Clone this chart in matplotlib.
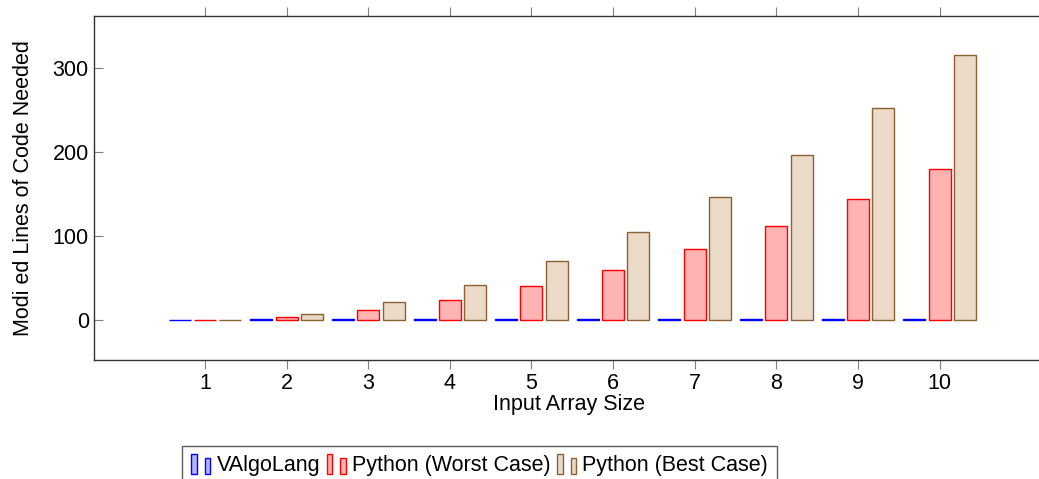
import matplotlib
matplotlib.use("Agg")
import matplotlib.pyplot as plt
import numpy as np
from matplotlib.patches import Rectangle
from matplotlib.legend_handler import HandlerBase

plt.rcParams["font.family"] = ["Liberation Sans", "DejaVu Sans"]
plt.rcParams["font.size"] = 15.5

# datos
sizes = [1, 2, 3, 4, 5, 6, 7, 8, 9, 10]
valgolang = [0, 1, 1, 1, 1, 1, 1, 1, 1, 1]
python_worst = [0, 4, 12, 24, 40, 60, 84, 112, 144, 180]
python_best = [0, 7, 21, 42, 70, 105, 147, 196, 252, 315]

series = [
    ("VAlgoLang", valgolang, "#b3b3ff", "#0000ff"),
    ("Python (Worst Case)", python_worst, "#ffb3b3", "#ff0000"),
    ("Python (Best Case)", python_best, "#ebdac7", "#8c5f35"),
]


class PairBars(HandlerBase):
    """Dos barritas pequenas como en pgfplots."""

    def create_artists(self, legend, orig, xdescent, ydescent, width, height,
                       fontsize, trans):
        fc = orig.get_facecolor()
        ec = orig.get_edgecolor()
        w = width * 0.3
        y0 = -ydescent - 0.2 * height
        r1 = Rectangle((-xdescent, y0), w, height * 1.3,
                       facecolor=fc, edgecolor=ec, lw=1.0, transform=trans)
        r2 = Rectangle((-xdescent + width * 0.7, y0), w, height * 1.05,
                       facecolor=fc, edgecolor=ec, lw=1.0, transform=trans)
        return [r1, r2]


fig = plt.figure(figsize=(10.39, 4.79), dpi=100)
ax = fig.add_axes([0.0908, 0.2478, 0.914, 0.7194])

x = np.array(sizes, dtype=float)
offsets = [-0.31, 0.0, 0.31]
handles = []
for (name, vals, fc, ec), off in zip(series, offsets):
    bars = ax.bar(x + off, vals, width=0.27, color=fc, edgecolor=ec,
                  linewidth=1.0, label=name)
    handles.append(bars.patches[0])

ax.set_xlim(-0.356, 11.28)
ax.set_ylim(-48, 362.3)
ax.set_xticks(sizes)
ax.set_yticks([0, 100, 200, 300])

ax.tick_params(axis="x", direction="out", length=6.5, color="gray",
               top=True, bottom=True, pad=3)
ax.tick_params(axis="y", direction="in", length=6.5, color="gray",
               left=True, right=False, pad=4)
for side in ["left", "bottom", "top"]:
    ax.spines[side].set_color("#333333")
    ax.spines[side].set_linewidth(1.0)
ax.spines["right"].set_visible(False)

ax.set_xlabel("Input Array Size", labelpad=0)
ax.set_ylabel("Modi ed Lines of Code Needed", labelpad=13)

leg = fig.legend(
    handles,
    [s[0] for s in series],
    handler_map={h: PairBars() for h in handles},
    loc="upper left",
    bbox_to_anchor=(182 / 1039, 1 - 446 / 479),
    ncol=3,
    frameon=True,
    fancybox=False,
    handlelength=0.9,
    handletextpad=0.28,
    columnspacing=0.3,
    borderpad=0.42,
    borderaxespad=0,
    fontsize=15.5,
)
leg.get_frame().set_edgecolor("#333333")
leg.get_frame().set_linewidth(1.0)

fig.savefig("out.png", dpi=100)
